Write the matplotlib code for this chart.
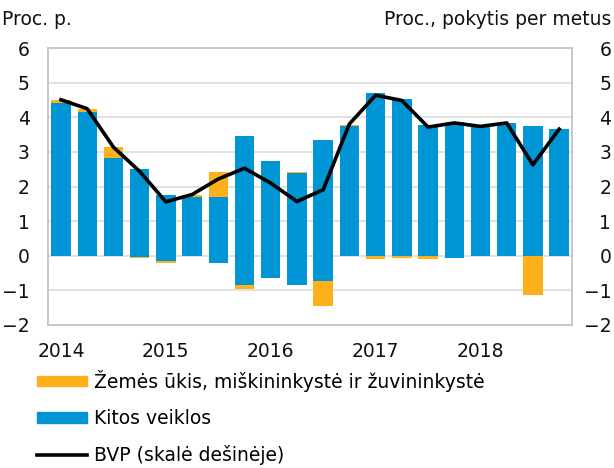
import numpy as np
import matplotlib
matplotlib.use("Agg")
from matplotlib import pyplot as plt
from matplotlib.patches import Patch
from matplotlib.lines import Line2D

# quarterly data 2014Q1 - 2018Q4
quarters = ["2014Q1", "2014Q2", "2014Q3", "2014Q4",
            "2015Q1", "2015Q2", "2015Q3", "2015Q4",
            "2016Q1", "2016Q2", "2016Q3", "2016Q4",
            "2017Q1", "2017Q2", "2017Q3", "2017Q4",
            "2018Q1", "2018Q2", "2018Q3", "2018Q4"]
kitos_pos = [4.42, 4.15, 2.82, 2.51, 1.76, 1.70, 1.69, 3.45, 2.74, 2.39,
             3.36, 3.74, 4.70, 4.54, 3.78, 3.82, 3.76, 3.83, 3.76, 3.66]
kitos_neg = [0.0, 0.0, 0.0, -0.04, -0.16, 0.0, -0.21, -0.84, -0.65, -0.84,
             -0.72, 0.0, 0.0, 0.0, 0.0, -0.06, 0.0, 0.0, 0.0, 0.0]
zemes = [0.08, 0.09, 0.32, -0.03, -0.04, 0.05, 0.72, -0.11, 0.0, 0.02,
         -0.73, 0.05, -0.08, -0.05, -0.10, 0.06, 0.0, 0.0, -1.14, -0.02]
bvp = [4.51, 4.25, 3.14, 2.44, 1.56, 1.77, 2.22, 2.53, 2.10, 1.57,
       1.91, 3.81, 4.64, 4.49, 3.72, 3.84, 3.74, 3.84, 2.63, 3.66]
year_labels = ["2014", "2015", "2016", "2017", "2018"]

orange = "#FDB01A"
blue = "#0095D4"
fs = 13.5

x = np.arange(len(quarters))
kp = np.array(kitos_pos)
kn = np.array(kitos_neg)
z = np.array(zemes)
z_base = np.where(z >= 0, kp, kn)

fig = plt.figure(figsize=(6.14, 4.68), dpi=100)
ax = fig.add_axes([0.078, 0.3056, 0.854, 0.5914])

ax.bar(x, kp, width=0.74, color=blue, zorder=2)
ax.bar(x, kn, width=0.74, color=blue, zorder=2)
ax.bar(x, z, bottom=z_base, width=0.74, color=orange, zorder=2)

ax2 = ax.twinx()
ax2.plot(x, bvp, color="black", lw=2.6, zorder=3)

ticklabels = [str(v).replace("-", "\u2212") for v in range(-2, 7)]
for a in (ax, ax2):
    a.set_ylim(-2, 6)
    a.set_yticks(range(-2, 7))
    a.set_yticklabels(ticklabels)
    for s in a.spines.values():
        s.set_color("#c8c8c8")
        s.set_linewidth(1.2)
ax.tick_params(axis="y", length=0, labelsize=fs, pad=13, colors="#111111")
ax2.tick_params(axis="y", length=0, labelsize=fs, pad=28, colors="#111111")
for lbl in ax2.get_yticklabels():
    lbl.set_horizontalalignment("right")

ax.set_xlim(-0.5, len(quarters) - 0.5)
ax.set_xticks(x[::4])
ax.set_xticklabels(year_labels)
ax.tick_params(axis="x", length=0, labelsize=fs, pad=12, colors="#111111")
ax.grid(axis="y", color="#dcdcdc", lw=1.2, zorder=0)
ax.set_axisbelow(True)

fig.text(0.003, 0.958, "Proc. p.", fontsize=fs, color="#111111", va="center")
fig.text(0.995, 0.958, "Proc., pokytis per metus", fontsize=fs, color="#111111",
         va="center", ha="right")

handles = [Patch(color=orange), Patch(color=blue), Line2D([], [], color="black", lw=2.6)]
labels = ["Žemės ūkis, miškininkystė ir žuvininkystė", "Kitos veiklos",
          "BVP (skalė dešinėje)"]
fig.legend(handles, labels, loc="upper left", bbox_to_anchor=(0.060, 0.210),
           frameon=False, fontsize=fs, handlelength=2.7, handleheight=0.5,
           handletextpad=0.37, labelspacing=0.92, borderaxespad=0, borderpad=0)

fig.savefig("out.png", dpi=100)
